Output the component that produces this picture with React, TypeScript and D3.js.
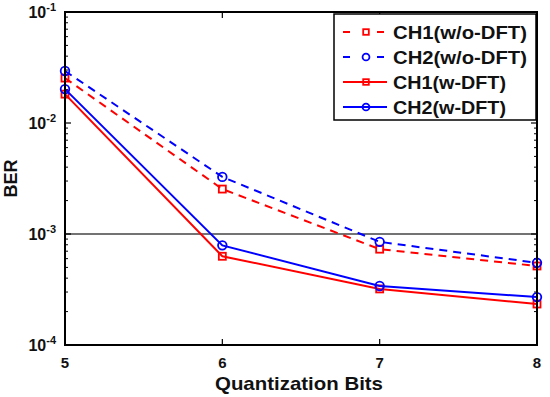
import React from "react";
import * as d3 from "d3";

const bits = [5, 6, 7, 8];
const ch1NoDft = [0.0254, 0.00254, 0.00073, 0.000515];
const ch2NoDft = [0.0294, 0.00327, 0.00085, 0.00055];
const ch1Dft = [0.0182, 0.00063, 0.00032, 0.000234];
const ch2Dft = [0.0202, 0.00079, 0.00034, 0.00027];
const yTickExps = [-1, -2, -3, -4];
const seriesNames = ["CH1(w/o-DFT)", "CH2(w/o-DFT)", "CH1(w-DFT)", "CH2(w-DFT)"];

const W = 550, H = 397;
const L = 65, R = 537, T = 12, B = 345;

export default function App() {
  const x = d3.scaleLinear().domain([5, 8]).range([L, R]);
  const y = d3.scaleLog().domain([1e-4, 1e-1]).range([B, T]);
  const series = [
    { name: seriesNames[0], vals: ch1NoDft, color: "#ff0000", dash: "8,6", marker: "sq" },
    { name: seriesNames[1], vals: ch2NoDft, color: "#0000ff", dash: "8,6", marker: "ci" },
    { name: seriesNames[2], vals: ch1Dft, color: "#ff0000", dash: "", marker: "sq" },
    { name: seriesNames[3], vals: ch2Dft, color: "#0000ff", dash: "", marker: "ci" },
  ];
  const line = d3.line<number>().x((_, i) => x(bits[i])).y((v) => y(v));
  const minor: number[] = [];
  for (let e = -4; e < -1; e++) for (let m = 2; m <= 9; m++) minor.push(m * Math.pow(10, e));
  const font = "Arial, 'Liberation Sans', sans-serif";
  const marker = (kind: string, cx: number, cy: number, color: string, key: any, s = 1) =>
    kind === "sq" ? (
      <rect key={key} x={cx - 3.5 * s} y={cy - 3.5 * s} width={7 * s} height={7 * s} fill="none" stroke={color} strokeWidth={1.8} />
    ) : (
      <circle key={key} cx={cx} cy={cy} r={4.3 * s} fill="none" stroke={color} strokeWidth={1.8} />
    );
  return (
    <svg width={W} height={H} style={{ position: "absolute", left: 0, top: 0 }} fontFamily={font}>
      <rect width={W} height={H} fill="#fff" />
      <line x1={L} x2={R} y1={y(1e-3)} y2={y(1e-3)} stroke="#444" strokeWidth={1.5} />
      {minor.map((v, i) => (
        <g key={"m" + i}>
          <line x1={L} x2={L + 3} y1={y(v)} y2={y(v)} stroke="#000" strokeWidth={1} />
          <line x1={R} x2={R - 3} y1={y(v)} y2={y(v)} stroke="#000" strokeWidth={1} />
        </g>
      ))}
      {yTickExps.map((e) => (
        <g key={"y" + e}>
          <line x1={L} x2={L + 6} y1={y(Math.pow(10, e))} y2={y(Math.pow(10, e))} stroke="#000" strokeWidth={1.2} />
          <line x1={R} x2={R - 6} y1={y(Math.pow(10, e))} y2={y(Math.pow(10, e))} stroke="#000" strokeWidth={1.2} />
          <text x={L - 9} y={y(Math.pow(10, e)) + 6} textAnchor="end" fontSize={16} fontWeight="bold" fill="#111">
            10<tspan dy={-7} fontSize={11}>{"-" + Math.abs(e)}</tspan>
          </text>
        </g>
      ))}
      {bits.map((b) => (
        <g key={"x" + b}>
          <line x1={x(b)} x2={x(b)} y1={B} y2={B - 6} stroke="#000" strokeWidth={1.2} />
          <line x1={x(b)} x2={x(b)} y1={T} y2={T + 6} stroke="#000" strokeWidth={1.2} />
          <text x={x(b)} y={B + 23} textAnchor="middle" fontSize={15} fontWeight="bold" fill="#111">{b}</text>
        </g>
      ))}
      {series.map((s, si) => (
        <g key={"s" + si}>
          <path d={line(s.vals) || ""} fill="none" stroke={s.color} strokeWidth={2} strokeDasharray={s.dash} />
          {s.vals.map((v, i) => marker(s.marker, x(bits[i]), y(v), s.color, i))}
        </g>
      ))}
      <rect x={L} y={T} width={R - L} height={B - T} fill="none" stroke="#000" strokeWidth={2} />
      <rect x={334} y={14} width={202} height={106} fill="#fff" stroke="#000" strokeWidth={1.5} />
      {series.map((s, i) => {
        const ly = 32 + i * 25;
        return (
          <g key={"l" + i}>
            <line x1={343} x2={387} y1={ly} y2={ly} stroke={s.color} strokeWidth={2} strokeDasharray={s.dash ? "7,10" : ""} />
            {s.dash ? <rect x={358} y={ly - 4} width={16} height={8} fill="#fff" /> : null}
            {marker(s.marker, 366, ly, s.color, "mk", 0.8)}
            <text x={393} y={ly + 7} fontSize={19} fontWeight="bold" fill="#111"
              textLength={s.name.length === 12 ? 134 : 113} lengthAdjust="spacingAndGlyphs">{s.name}</text>
          </g>
        );
      })}
      <text x={299} y={390} textAnchor="middle" fontSize={19} fontWeight="bold" fill="#111"
        textLength={168} lengthAdjust="spacingAndGlyphs">Quantization Bits</text>
      <text transform={`translate(17,${(T + B) / 2}) rotate(-90)`} textAnchor="middle" fontSize={18} fontWeight="bold" fill="#111">BER</text>
    </svg>
  );
}
